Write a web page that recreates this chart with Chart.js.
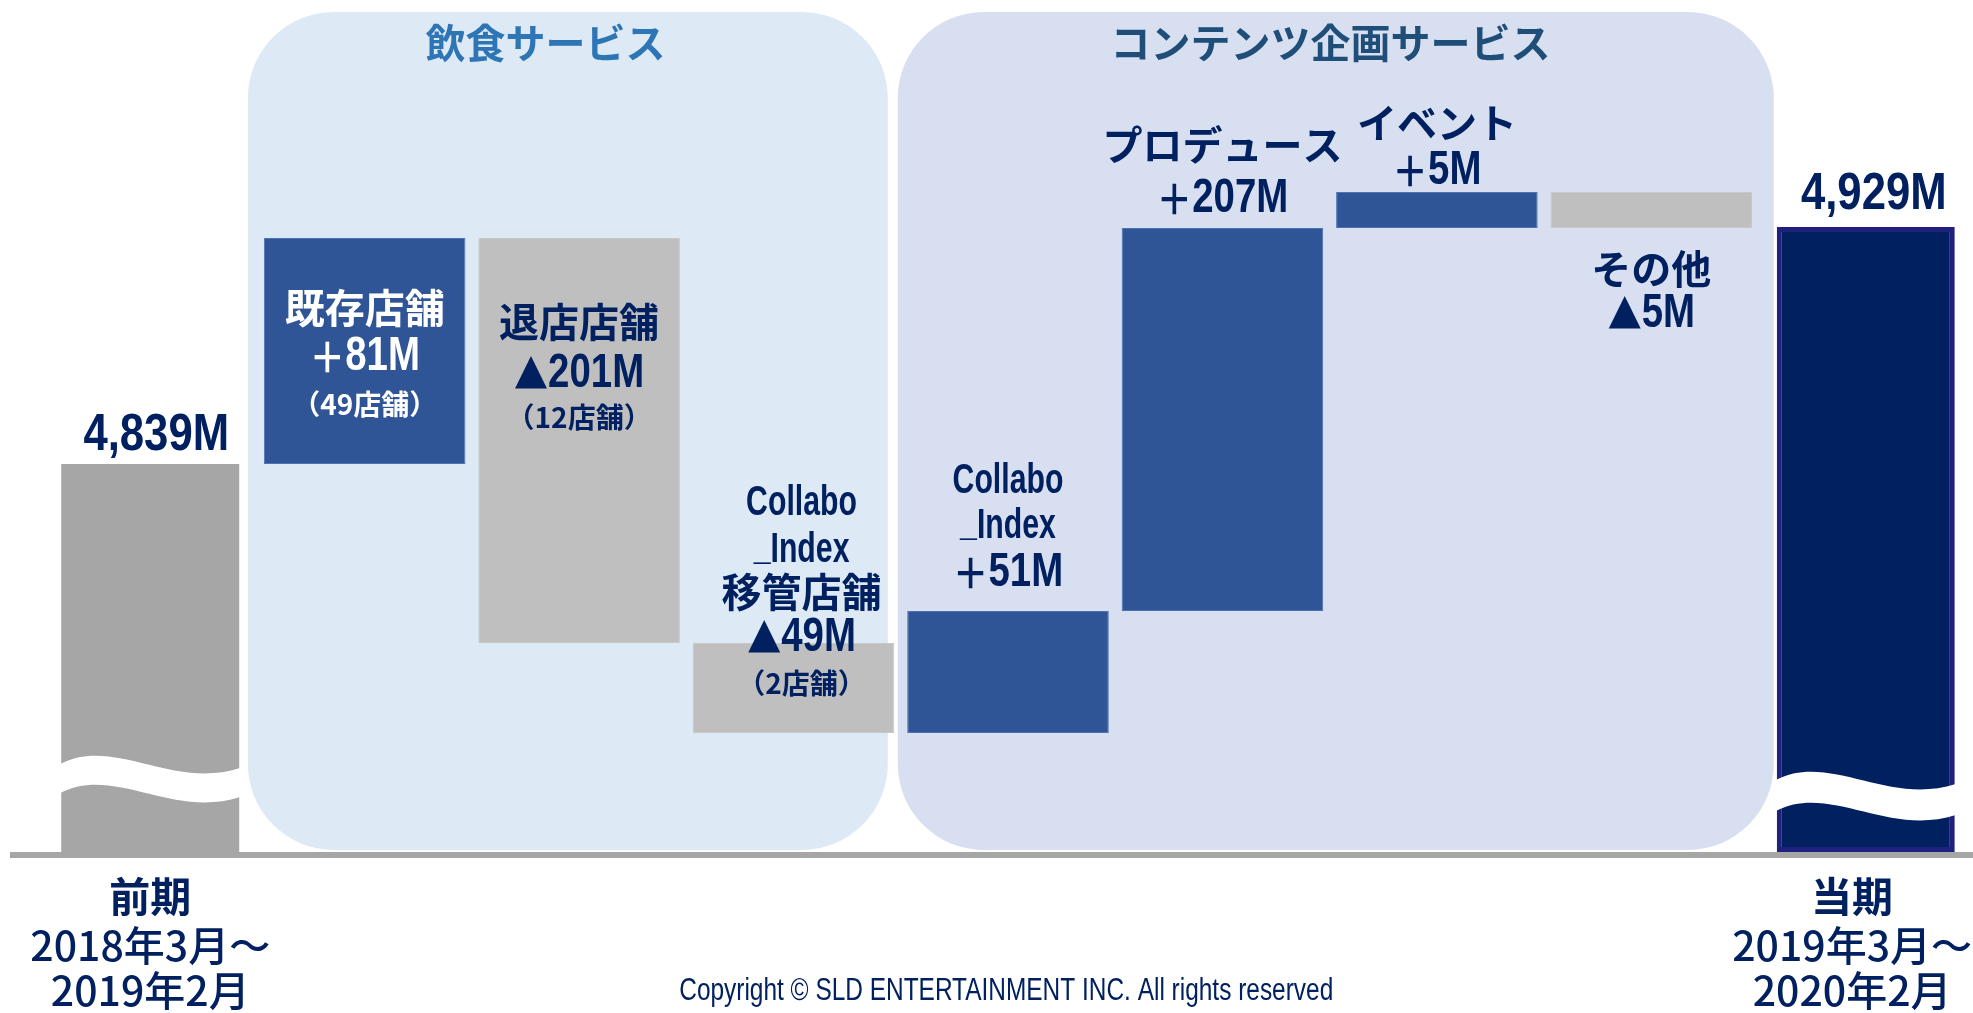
<!DOCTYPE html>
<html><head><meta charset="utf-8">
<script src="https://cdn.jsdelivr.net/npm/chart.js@4.4.1/dist/chart.umd.min.js"></script>
<style>html,body{margin:0;padding:0;background:#fff;overflow:hidden}
#wrap{position:absolute;left:0;top:0;width:1973px;height:1013px}</style>
</head><body>
<div id="wrap"><canvas id="c" width="1973" height="1013"></canvas></div>
<script>
// ---------------- data ----------------
const categories = ['前期', '既存店舗', '退店店舗', 'Collabo_Index移管店舗', 'Collabo_Index', 'プロデュース', 'イベント', 'その他', '当期'];
const stepNames = [['既存店舗'], ['退店店舗'], ['Collabo', '_Index', '移管店舗'], ['Collabo', '_Index'], ['プロデュース'], ['イベント'], ['その他']];
const stepDeltas = [81, -201, -49, 51, 207, 5, -5];
const storeCounts = [49, 12, 2, null, null, null, null];
const startTotal = 4839;
const endTotal = 4929;
const periodLabels = [['前期', '2018年3月～', '2019年2月'], ['当期', '2019年3月～', '2020年2月']];
const segmentTitles = ['飲食サービス', 'コンテンツ企画サービス'];
const segmentRanges = [[1, 3], [4, 7]];
const copyrightText = 'Copyright © SLD ENTERTAINMENT INC. All rights reserved';
// the value axis is broken / not to scale: [value, fraction of plot height]
const axisBreaks = [[0, 0], [4670, 0.1397], [4719, 0.2453], [4721, 0.2829], [4839, 0.4554], [4920, 0.7207], [4928, 0.7324], [4929, 0.7336], [4933, 0.7746], [5000, 1]];

// ---------------- styles ----------------
const NAVY = '#002060';
const LATIN = "'Liberation Sans','Noto Sans CJK JP',sans-serif";
const CJK = "'Noto Sans CJK JP',sans-serif";

class BrokenScale extends Chart.LinearScale {
  static id = 'broken';
  static defaults = Chart.LinearScale.defaults;
  _dec(v) {
    const b = axisBreaks;
    if (v <= b[0][0]) return b[0][1];
    for (let i = 1; i < b.length; i++) {
      if (v <= b[i][0]) {
        const [v0, f0] = b[i - 1], [v1, f1] = b[i];
        return f0 + (v - v0) / (v1 - v0) * (f1 - f0);
      }
    }
    return b[b.length - 1][1];
  }
  getPixelForValue(v) { return this.getPixelForDecimal(this._dec(v)); }
  getValueForPixel(p) {
    const d = this.getDecimalForPixel(p), b = axisBreaks;
    for (let i = 1; i < b.length; i++) {
      if (d <= b[i][1]) {
        const [v0, f0] = b[i - 1], [v1, f1] = b[i];
        return v0 + (d - f0) / (f1 - f0 || 1) * (v1 - v0);
      }
    }
    return b[b.length - 1][0];
  }
}
Chart.register(BrokenScale);

const n = categories.length;
const totalsData = new Array(n).fill(null);
totalsData[0] = [0, startTotal];
totalsData[n - 1] = [0, endTotal];
const stepsData = new Array(n).fill(null);
let level = startTotal;
stepDeltas.forEach((d, i) => { stepsData[i + 1] = [level, level + d]; level += d; });

const fmtTotal = v => v.toLocaleString('en-US') + 'M';

const stepLabelLayout = [
  { anchor: 'top', color: '#ffffff', offsets: [70, 119, 166] },
  { anchor: 'top', color: NAVY, offsets: [84, 136, 179] },
  { anchor: 'top', color: NAVY, offsets: [-140, -93, -51, -5, 40], dx: 8 },
  { anchor: 'top', color: NAVY, offsets: [-130, -85, -38] },
  { anchor: 'top', color: NAVY, offsets: [-83, -29] },
  { anchor: 'top', color: NAVY, offsets: [-69, -21] },
  { anchor: 'bottom', color: NAVY, offsets: [41, 86] }
];

function barGeom(chart, i) {
  const meta = chart.getDatasetMeta(i === 0 || i === n - 1 ? 0 : 1);
  const el = meta.data[i];
  const p = el.getProps(['x', 'y', 'base', 'width'], true);
  return { x: p.x, left: p.x - p.width / 2, right: p.x + p.width / 2, top: Math.min(p.y, p.base), bottom: Math.max(p.y, p.base), width: p.width };
}

function roundRect(ctx, x, y, w, h, r) {
  ctx.beginPath();
  ctx.moveTo(x + r, y);
  ctx.lineTo(x + w - r, y);
  ctx.arcTo(x + w, y, x + w, y + r, r);
  ctx.lineTo(x + w, y + h - r);
  ctx.arcTo(x + w, y + h, x + w - r, y + h, r);
  ctx.lineTo(x + r, y + h);
  ctx.arcTo(x, y + h, x, y + h - r, r);
  ctx.lineTo(x, y + r);
  ctx.arcTo(x, y, x + r, y, r);
  ctx.closePath();
}

// draw a line made of parts [{s, font, sx, dy}] centred at x
function parts(ctx, list, x, y, color) {
  let total = 0;
  list.forEach(p => { ctx.font = p.font; p.w = ctx.measureText(p.s).width * (p.sx || 1); total += p.w; });
  let cx = x - total / 2;
  ctx.save();
  ctx.fillStyle = color;
  ctx.textAlign = 'left';
  ctx.textBaseline = 'middle';
  list.forEach(p => {
    ctx.save();
    ctx.font = p.font;
    ctx.translate(cx, y + (p.dy || 0));
    ctx.scale(p.sx || 1, 1);
    ctx.fillText(p.s, 0, 0);
    ctx.restore();
    cx += p.w;
  });
  ctx.restore();
}
function text(ctx, s, x, y, font, color, sx) { parts(ctx, [{ s, font, sx }], x, y, color); }

function wave(ctx, left, right, yTop, thick) {
  const w = right - left;
  ctx.beginPath();
  ctx.moveTo(left, yTop);
  ctx.bezierCurveTo(left + 0.3 * w, yTop - 28, left + 0.62 * w, yTop + 26, right, yTop + 4);
  ctx.lineTo(right, yTop + 4 + thick);
  ctx.bezierCurveTo(left + 0.62 * w, yTop + 26 + thick, left + 0.3 * w, yTop - 28 + thick, left, yTop + thick);
  ctx.closePath();
  ctx.fillStyle = '#ffffff';
  ctx.fill();
}

const decorPlugin = {
  id: 'decor',
  beforeDatasetsDraw(chart) {
    const ctx = chart.ctx, ys = chart.scales.y;
    const base = ys.getPixelForValue(0);
    const top = chart.chartArea.top + 12;
    const b1 = barGeom(chart, 1), b3 = barGeom(chart, 3), b4 = barGeom(chart, 4), b8 = barGeom(chart, n - 1);
    const mid = (b3.right + b4.left) / 2 - 8;
    const panels = [
      { left: b1.left - 16, right: mid - 5, color: '#DDEAF6', title: '#2E75B6', tx: 0.465 },
      { left: mid + 5, right: b8.left - 3, color: '#D7DFF1', title: '#1F4E79', tx: 0.494 }
    ];
    panels.forEach((p, k) => {
      ctx.save();
      roundRect(ctx, p.left, top, p.right - p.left, base - 2 - top, 86);
      ctx.fillStyle = p.color;
      ctx.fill();
      ctx.restore();
      text(ctx, segmentTitles[k], p.left + (p.right - p.left) * p.tx, top + 31, 'bold 40px ' + CJK, p.title);
    });
  },
  afterDatasetsDraw(chart) {
    const ctx = chart.ctx, ys = chart.scales.y;
    const base = ys.getPixelForValue(0);
    ctx.save();
    // break marks
    const g0 = barGeom(chart, 0), g8 = barGeom(chart, n - 1);
    wave(ctx, g0.left - 1, g0.right + 1, base - 88, 29);
    wave(ctx, g8.left - 1, g8.right + 1, base - 72, 31);
    // axis line
    ctx.fillStyle = '#A6A6A6';
    ctx.fillRect(10, base, chart.width - 10, 6);
    // totals
    text(ctx, fmtTotal(startTotal), g0.x + 6, g0.top - 28, 'bold 52px ' + LATIN, NAVY, 0.84);
    text(ctx, fmtTotal(endTotal), g8.x + 8, g8.top - 32, 'bold 52px ' + LATIN, NAVY, 0.84);
    // step labels
    stepDeltas.forEach((d, k) => {
      const g = barGeom(chart, k + 1);
      const L = stepLabelLayout[k];
      const lines = [];
      stepNames[k].forEach(s => {
        if (/[A-Za-z]/.test(s)) {
          const lp = [];
          if (s[0] === '_') lp.push({ s: '_', font: 'bold 42px ' + LATIN, sx: 0.72, dy: -3 });
          lp.push({ s: s.replace(/^_/, ''), font: 'bold 42px ' + LATIN, sx: 0.72 });
          lines.push(lp);
        } else {
          lines.push([{ s, font: 'bold 40px ' + CJK }]);
        }
      });
      lines.push([
        d >= 0 ? { s: '＋', font: 'bold 42px ' + CJK, sx: 0.85 } : { s: '▲', font: 'bold 40px ' + CJK, sx: 0.85 },
        { s: Math.abs(d) + 'M', font: 'bold 48px ' + LATIN, sx: 0.8 }
      ]);
      if (storeCounts[k] != null) lines.push([{ s: '（' + storeCounts[k] + '店舗）', font: 'bold 28px ' + CJK }]);
      const ref = L.anchor === 'top' ? g.top : g.bottom;
      lines.forEach((lp, j) => parts(ctx, lp, g.x + (L.dx || 0), ref + L.offsets[j], L.color));
    });
    // period labels
    [g0, g8].forEach((g, k) => {
      const lines = periodLabels[k];
      let cx = g.x;
      ctx.font = '500 41px ' + CJK;
      const w = ctx.measureText(lines[1]).width;
      if (cx + w / 2 > chart.width - 1) cx = chart.width - 1 - w / 2;
      text(ctx, lines[0], cx, base + 44, 'bold 41px ' + CJK, NAVY);
      text(ctx, lines[1], cx, base + 93, '500 41px ' + CJK, NAVY);
      text(ctx, lines[2], cx, base + 138, '500 41px ' + CJK, NAVY);
    });
    // copyright
    ctx.font = '31px ' + LATIN;
    const cw = ctx.measureText(copyrightText).width;
    text(ctx, copyrightText, chart.width * 0.51, base + 139, '31px ' + LATIN, NAVY, 654 / cw);
    ctx.restore();
  }
};

new Chart(document.getElementById('c'), {
  type: 'bar',
  data: {
    labels: categories,
    datasets: [
      {
        label: 'totals',
        data: totalsData,
        backgroundColor: ctx => ctx.dataIndex === 0 ? '#A6A6A6' : NAVY,
        borderColor: ctx => ctx.dataIndex === 0 ? '#A6A6A6' : '#20207F',
        borderWidth: ctx => ctx.dataIndex === 0 ? 0 : 5,
        borderSkipped: false,
        barPercentage: 0.83
      },
      {
        label: 'steps',
        data: stepsData,
        backgroundColor: ctx => (stepDeltas[ctx.dataIndex - 1] >= 0 ? '#2F5597' : '#BFBFBF'),
        borderColor: ctx => (stepDeltas[ctx.dataIndex - 1] >= 0 ? '#4D72B4' : '#C8C8C8'),
        borderWidth: 1,
        borderSkipped: false,
        barPercentage: 0.94
      }
    ]
  },
  options: {
    responsive: false,
    animation: false,
    devicePixelRatio: 1,
    layout: { padding: { left: 43, right: 0, top: 0, bottom: 161 } },
    datasets: { bar: { categoryPercentage: 1, grouped: false } },
    plugins: { legend: { display: false }, tooltip: { enabled: false } },
    scales: {
      x: { type: 'category', display: false, offset: true, grid: { display: false } },
      y: { type: 'broken', display: false, min: 0, max: 5000 }
    }
  },
  plugins: [decorPlugin]
});
</script>
</body></html>
